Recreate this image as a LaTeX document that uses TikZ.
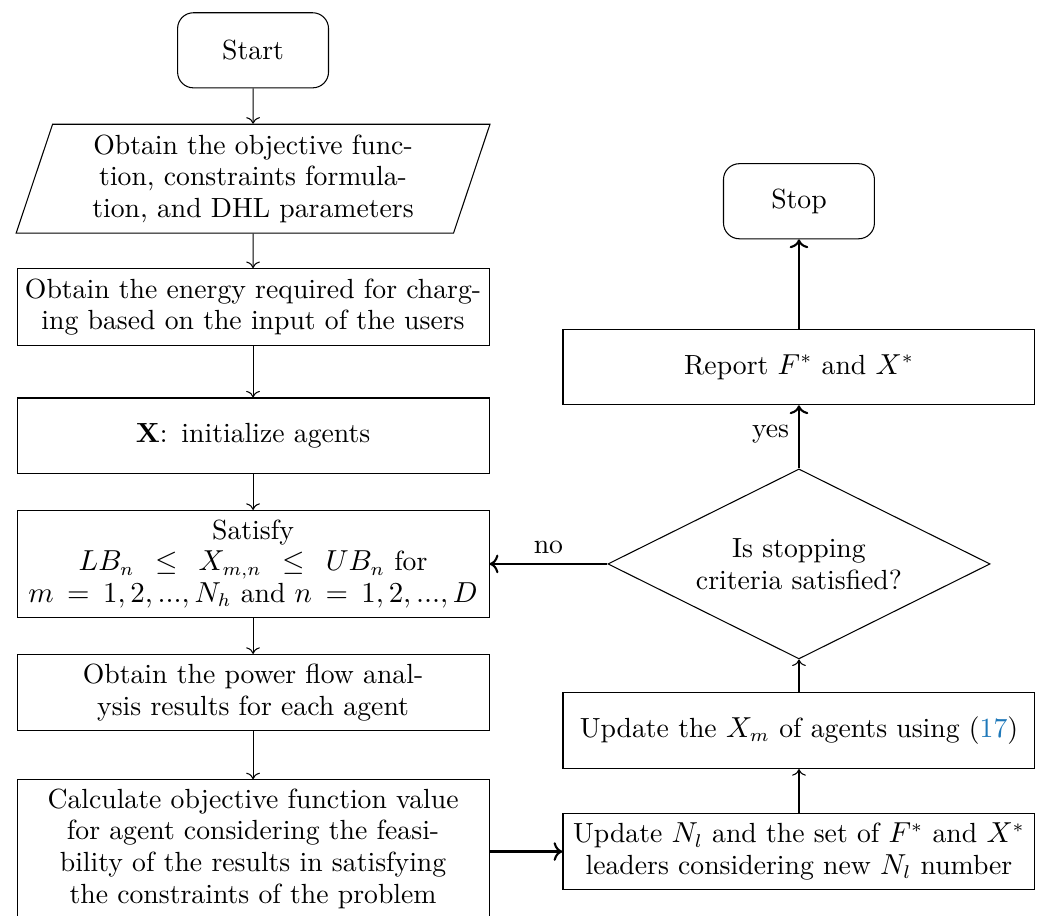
\documentclass[tikz,border=0pt]{standalone}
\usepackage{tikz}
\usetikzlibrary{arrows.meta, positioning, shapes.geometric}
\usepackage{xcolor}
\definecolor{linkblue}{RGB}{30, 120, 185}

\begin{document}
\begin{tikzpicture}[
            node distance=1.71cm, on grid,
            every node/.style={font=\fontsize{10.5pt}{12pt}\selectfont},
            box/.style={draw, rectangle, text width=6.1cm, inner xsep=2pt, align=center, minimum width=6.285cm, minimum height=1.0cm},
            terminal/.style={draw, rounded corners=6pt, minimum width=2.01cm, minimum height=1.0cm},
            inputbox/.style={draw, trapezium, trapezium left angle=71, trapezium right angle=109, trapezium stretches body, align=center, minimum width=6.31cm, minimum height=1.45cm, inner xsep=0pt},
            decision/.style={draw, diamond, aspect=2, align=center, inner sep=0pt, minimum width=5.09cm, minimum height=2.53cm},
            flow/.style={->}
        ]
            \useasboundingbox (-3.37,0.67) rectangle (10.44,-11.52);
            % Left column
            \node[terminal] (start) {Start};
            \node[inputbox, below=of start] (input) {Obtain the objective func-\\tion, constraints formula-\\tion, and DHL parameters};
            \node[box, below=of input, minimum height=1.025cm] (energy) {Obtain the energy required for charg-\\ing based on the input of the users};
            \node[box, below=of energy] (init) {\textbf{X}:\, initialize agents};
            \node[box, below=of init, minimum height=1.425cm] (satisfy) {Satisfy\\ $LB_n \,\leq\, X_{m,n} \,\leq\, UB_n$ for\\ $m \,=\, 1,2,...,N_h$ and $n \,=\, 1,2,...,D$};
            \node[box, below=of satisfy, minimum height=1.01cm] (power) {Obtain the power flow anal-\\ysis results for each agent};
            \node[box, below=2.08cm of power, minimum height=1.78cm] (calc) {Calculate objective function value\\for agent considering the feasi-\\bility of the results in satisfying\\the constraints of the problem};

            % Right column
            \node[decision, right=7.27cm of satisfy] (check) {Is stopping\\criteria satisfied?};
            \node[box, below=2.22cm of check, minimum height=1.01cm] (updx) {Update the $X_m$ of agents using (\textcolor{linkblue}{17})};
            \node[box, below=1.61cm of updx, minimum height=1.01cm] (updn) {Update $N_l$ and the set of $F^{*}$ and $X^{*}$\\leaders considering new $N_l$ number};
            \node[box, above=2.62cm of check] (report) {Report $F^{*}$ and $X^{*}$};
            \node[terminal, above=2.21cm of report] (stop) {Stop};

            % Arrows
            \draw[flow] (start) -- (input);
            \draw[flow] (input) -- (energy);
            \draw[flow] (energy) -- (init);
            \draw[flow] (init) -- (satisfy);
            \draw[flow] (satisfy) -- (power);
            \draw[flow] (power) -- (calc);
            \draw[flow, thick] (calc.east |- updn.west) -- (updn.west);
            \draw[flow] (updn) -- (updx);
            \draw[flow] (updx) -- (check.south);
            \draw[flow, thick] (check.north) -- (report) node[pos=0.55, left] {yes};
            \draw[flow, thick] (check.west) -- (satisfy.east) node[midway, above] {no};
            \draw[flow, thick] (report) -- (stop);
        \end{tikzpicture}
\end{document}
